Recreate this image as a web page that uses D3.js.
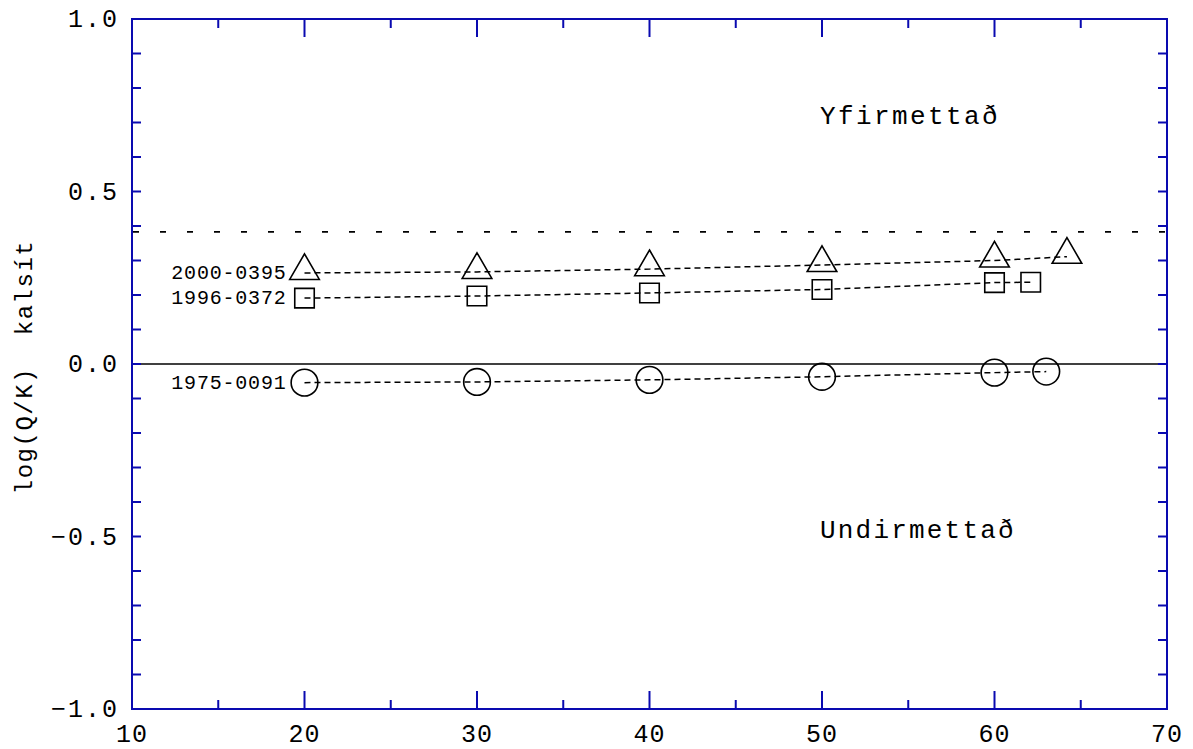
<!DOCTYPE html>
<html><head><meta charset="utf-8">
<script src="https://cdn.jsdelivr.net/npm/d3@7"></script>
<style>body{margin:0;background:#fff}svg{display:block}</style>
</head><body>
<svg id="c" width="1193" height="749"></svg>
<script>
const xLevels = [20, 30, 40, 50, 60];
const tri_x = [20, 30, 40, 50, 60, 64.2];
const tri_y = [0.264, 0.267, 0.275, 0.287, 0.300, 0.311];
const sq_x = [20, 30, 40, 50, 60, 62.1];
const sq_y = [0.191, 0.197, 0.206, 0.216, 0.236, 0.237];
const ci_x = [20, 30, 40, 50, 60, 63.0];
const ci_y = [-0.054, -0.052, -0.046, -0.037, -0.025, -0.022];
const seriesNames = ["2000-0395", "1996-0372", "1975-0091"];
const refLine = 0.383;
const xTicks = [10, 20, 30, 40, 50, 60, 70];
const yTicks = [-1.0, -0.5, 0.0, 0.5, 1.0];
const yLabel = "log(Q/K)  kalsít";
const regionLabels = ["Yfirmettað", "Undirmettað"];

const svg = d3.select("#c");
const L = 132, R = 1167, T = 19, B = 709;
const x = d3.scaleLinear().domain([10, 70]).range([L, R]);
const y = d3.scaleLinear().domain([-1, 1]).range([B, T]);
const blue = "#0a0ab0";
const font = "'Liberation Mono', 'DejaVu Sans Mono', monospace";

// reference lines
svg.append("line").attr("x1", L).attr("x2", R).attr("y1", y(0)).attr("y2", y(0))
  .attr("stroke", "#000").attr("stroke-width", 1.6);
svg.append("line").attr("x1", L + 1).attr("x2", R).attr("y1", y(refLine)).attr("y2", y(refLine))
  .attr("stroke", "#000").attr("stroke-width", 1.6).attr("stroke-dasharray", "6,21");

// series
const series = [
  {xs: tri_x, ys: tri_y, sym: d3.symbolTriangle, size: 380, name: seriesNames[0]},
  {xs: sq_x, ys: sq_y, sym: d3.symbolSquare, size: 380, name: seriesNames[1]},
  {xs: ci_x, ys: ci_y, sym: d3.symbolCircle, size: 560, name: seriesNames[2]}
];
const line = d3.line().x(d => x(d[0])).y(d => y(d[1]));
series.forEach(s => {
  const pts = s.xs.map((v, i) => [v, s.ys[i]]);
  svg.append("path").attr("d", line(pts)).attr("fill", "none").attr("stroke", "#000")
    .attr("stroke-width", 1.5).attr("stroke-dasharray", "6,4");
  svg.selectAll(null).data(pts).enter().append("path")
    .attr("d", d3.symbol().type(s.sym).size(s.size))
    .attr("transform", d => `translate(${x(d[0])},${y(d[1]) + (s.sym === d3.symbolTriangle ? -2 : 0)})`)
    .attr("fill", "none").attr("stroke", "#000").attr("stroke-width", 1.6);
  svg.append("text").attr("x", x(s.xs[0]) - 18).attr("y", y(s.ys[0]) + 6)
    .attr("text-anchor", "end").attr("font-family", font).attr("font-size", 20)
    .attr("letter-spacing", 0.8).text(s.name);
});

// frame
svg.append("rect").attr("x", L).attr("y", T).attr("width", R - L).attr("height", B - T)
  .attr("fill", "none").attr("stroke", blue).attr("stroke-width", 2);

// x ticks bottom and top
d3.range(10, 70.01, 5).forEach(v => {
  const major = v % 10 === 0;
  const len = major ? 18 : 9;
  svg.append("line").attr("x1", x(v)).attr("x2", x(v)).attr("y1", B).attr("y2", B - len)
    .attr("stroke", blue).attr("stroke-width", 2);
  svg.append("line").attr("x1", x(v)).attr("x2", x(v)).attr("y1", T).attr("y2", T + len)
    .attr("stroke", blue).attr("stroke-width", 2);
});
// y ticks left and right
d3.range(-1, 1.001, 0.1).forEach(v => {
  svg.append("line").attr("x1", L).attr("x2", L + 9).attr("y1", y(v)).attr("y2", y(v))
    .attr("stroke", blue).attr("stroke-width", 2);
  svg.append("line").attr("x1", R).attr("x2", R - 9).attr("y1", y(v)).attr("y2", y(v))
    .attr("stroke", blue).attr("stroke-width", 2);
});

// tick labels
svg.selectAll(null).data(xTicks).enter().append("text")
  .attr("x", d => x(d)).attr("y", 742).attr("text-anchor", "middle")
  .attr("font-family", font).attr("font-size", 25).attr("letter-spacing", 1).text(d => d);
svg.selectAll(null).data(yTicks).enter().append("text")
  .attr("x", 119).attr("y", d => y(d) + 8).attr("text-anchor", "end")
  .attr("font-family", font).attr("font-size", 25).attr("letter-spacing", 2)
  .text(d => d.toFixed(1).replace("-", "\u2212"));

// axis label
svg.append("text").attr("transform", `translate(32,${y(0.0) + 3}) rotate(-90)`)
  .attr("text-anchor", "middle").attr("font-family", font).attr("font-size", 24)
  .attr("letter-spacing", 1.5)
  .attr("xml:space", "preserve").style("white-space", "pre").text(yLabel);

// region labels
svg.append("text").attr("x", 820).attr("y", 124).attr("text-anchor", "start")
  .attr("font-family", font).attr("font-size", 26).attr("letter-spacing", 2.4).text(regionLabels[0]);
svg.append("text").attr("x", 820).attr("y", 538).attr("text-anchor", "start")
  .attr("font-family", font).attr("font-size", 26).attr("letter-spacing", 2.2).text(regionLabels[1]);
</script>
</body></html>
